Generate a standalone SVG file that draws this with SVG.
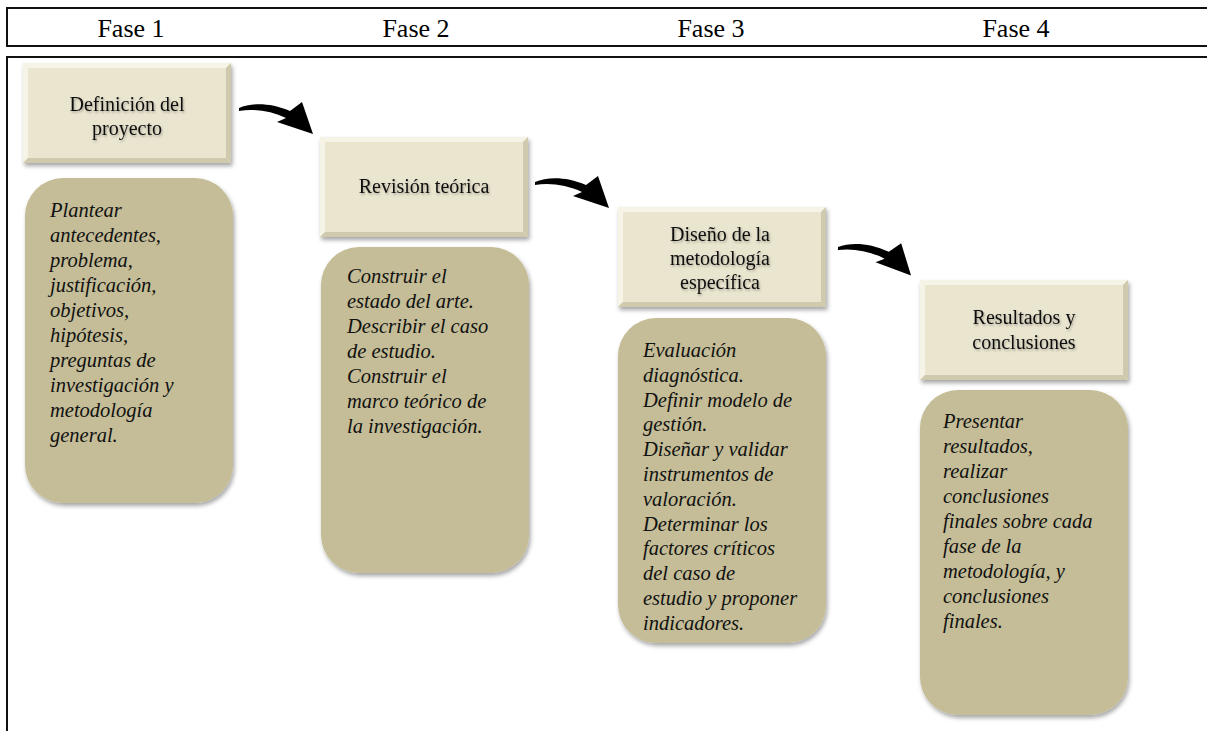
<svg xmlns="http://www.w3.org/2000/svg" width="1207" height="731" viewBox="0 0 1207 731">
  <style>
    .frame { fill: none; stroke: #111; stroke-width: 2; }
    .phase { font-family: "Liberation Serif", "Times New Roman", serif; font-size: 26px; fill: #000; text-anchor: middle; }
    .title { font-family: "Liberation Serif", "Times New Roman", serif; font-size: 20px; fill: #111; text-anchor: middle; }
    .body { font-family: "Liberation Serif", "Times New Roman", serif; font-size: 20.5px; font-style: italic; fill: #111; }
    .head { fill: #EAE5CF; }
    .bev-light { fill: #F6F3E7; }
    .bev-dark { fill: #CFC9AE; }
    .card { fill: #C4BD97; }
    .arrow { fill: #000; }
  </style>
  <defs>
    <filter id="shadow" x="-10%" y="-10%" width="125%" height="125%">
      <feDropShadow dx="1.5" dy="3" stdDeviation="2" flood-color="#000" flood-opacity="0.35"/>
    </filter>
    <filter id="tshadow" x="-5%" y="-20%" width="115%" height="150%">
      <feDropShadow dx="1" dy="1.5" stdDeviation="0.8" flood-color="#000" flood-opacity="0.3"/>
    </filter>
    <!-- beveled header block, 208 x 100 -->
    <g id="bevelBox">
      <rect class="head" x="0" y="0" width="208" height="100"/>
      <polygon class="bev-light" points="0,0 208,0 203,5 5,5"/>
      <polygon class="bev-light" points="0,0 5,5 5,95 0,100"/>
      <polygon class="bev-dark" points="208,0 208,100 203,95 203,5"/>
      <polygon class="bev-dark" points="0,100 5,95 203,95 208,100"/>
    </g>
    <!-- curved block arrow -->
    <path id="curveArrow" d="M0,0 C12,-5 30,-6 51,3 L63,-6 L74,26 L38,14 L47,10 C32,3 15,0.5 0,3 Z"/>
  </defs>

  <!-- table frame -->
  <g id="frame">
    <rect class="frame" x="7" y="8" width="1210" height="38"/>
    <path class="frame" d="M1210,57 H7 V740"/>
    <text class="phase" x="131" y="37">Fase 1</text>
    <text class="phase" x="416" y="37">Fase 2</text>
    <text class="phase" x="711" y="37">Fase 3</text>
    <text class="phase" x="1016" y="37">Fase 4</text>
  </g>

  <!-- Fase 1 -->
  <g id="n1">
    <use href="#bevelBox" x="23" y="63" filter="url(#shadow)"/>
    <g filter="url(#tshadow)">
      <text class="title" x="127" y="111">Definición del</text>
      <text class="title" x="127" y="135">proyecto</text>
    </g>
  </g>
  <g id="d1">
    <rect class="card" x="25" y="178" width="208" height="325" rx="38" filter="url(#shadow)"/>
    <text class="body" x="50" y="217">
      <tspan x="50" dy="0">Plantear</tspan>
      <tspan x="50" dy="25">antecedentes,</tspan>
      <tspan x="50" dy="25">problema,</tspan>
      <tspan x="50" dy="25">justificación,</tspan>
      <tspan x="50" dy="25">objetivos,</tspan>
      <tspan x="50" dy="25">hipótesis,</tspan>
      <tspan x="50" dy="25">preguntas de</tspan>
      <tspan x="50" dy="25">investigación y</tspan>
      <tspan x="50" dy="25">metodología</tspan>
      <tspan x="50" dy="25">general.</tspan>
    </text>
  </g>

  <!-- Fase 2 -->
  <g id="n2">
    <use href="#bevelBox" x="320" y="137" filter="url(#shadow)"/>
    <g filter="url(#tshadow)">
      <text class="title" x="424" y="193">Revisión teórica</text>
    </g>
  </g>
  <g id="d2">
    <rect class="card" x="321" y="247" width="208" height="326" rx="38" filter="url(#shadow)"/>
    <text class="body" x="347" y="283">
      <tspan x="347" dy="0">Construir el</tspan>
      <tspan x="347" dy="25">estado del arte.</tspan>
      <tspan x="347" dy="25">Describir el caso</tspan>
      <tspan x="347" dy="25">de estudio.</tspan>
      <tspan x="347" dy="25">Construir el</tspan>
      <tspan x="347" dy="25">marco teórico de</tspan>
      <tspan x="347" dy="25">la investigación.</tspan>
    </text>
  </g>

  <!-- Fase 3 -->
  <g id="n3">
    <use href="#bevelBox" x="618" y="207" filter="url(#shadow)"/>
    <g filter="url(#tshadow)">
      <text class="title" x="720" y="241">Diseño de la</text>
      <text class="title" x="720" y="265">metodología</text>
      <text class="title" x="720" y="289">específica</text>
    </g>
  </g>
  <g id="d3">
    <rect class="card" x="618" y="318" width="208" height="325" rx="38" filter="url(#shadow)"/>
    <text class="body" x="643" y="357">
      <tspan x="643" dy="0">Evaluación</tspan>
      <tspan x="643" dy="24.8">diagnóstica.</tspan>
      <tspan x="643" dy="24.8">Definir modelo de</tspan>
      <tspan x="643" dy="24.8">gestión.</tspan>
      <tspan x="643" dy="24.8">Diseñar y validar</tspan>
      <tspan x="643" dy="24.8">instrumentos de</tspan>
      <tspan x="643" dy="24.8">valoración.</tspan>
      <tspan x="643" dy="24.8">Determinar los</tspan>
      <tspan x="643" dy="24.8">factores críticos</tspan>
      <tspan x="643" dy="24.8">del caso de</tspan>
      <tspan x="643" dy="24.8">estudio y proponer</tspan>
      <tspan x="643" dy="24.8">indicadores.</tspan>
    </text>
  </g>

  <!-- Fase 4 -->
  <g id="n4">
    <use href="#bevelBox" x="920" y="280" filter="url(#shadow)"/>
    <g filter="url(#tshadow)">
      <text class="title" x="1024" y="324">Resultados  y</text>
      <text class="title" x="1024" y="349">conclusiones</text>
    </g>
  </g>
  <g id="d4">
    <rect class="card" x="920" y="390" width="208" height="325" rx="38" filter="url(#shadow)"/>
    <text class="body" x="943" y="428">
      <tspan x="943" dy="0">Presentar</tspan>
      <tspan x="943" dy="25">resultados,</tspan>
      <tspan x="943" dy="25">realizar</tspan>
      <tspan x="943" dy="25">conclusiones</tspan>
      <tspan x="943" dy="25">finales sobre cada</tspan>
      <tspan x="943" dy="25">fase de la</tspan>
      <tspan x="943" dy="25">metodología, y</tspan>
      <tspan x="943" dy="25">conclusiones</tspan>
      <tspan x="943" dy="25">finales.</tspan>
    </text>
  </g>

  <!-- connectors -->
  <g id="connectors">
    <use class="arrow" href="#curveArrow" x="239" y="108"/>
    <use class="arrow" href="#curveArrow" x="535" y="182"/>
    <use class="arrow" href="#curveArrow" transform="translate(838,247) rotate(2)"/>
  </g>
</svg>
